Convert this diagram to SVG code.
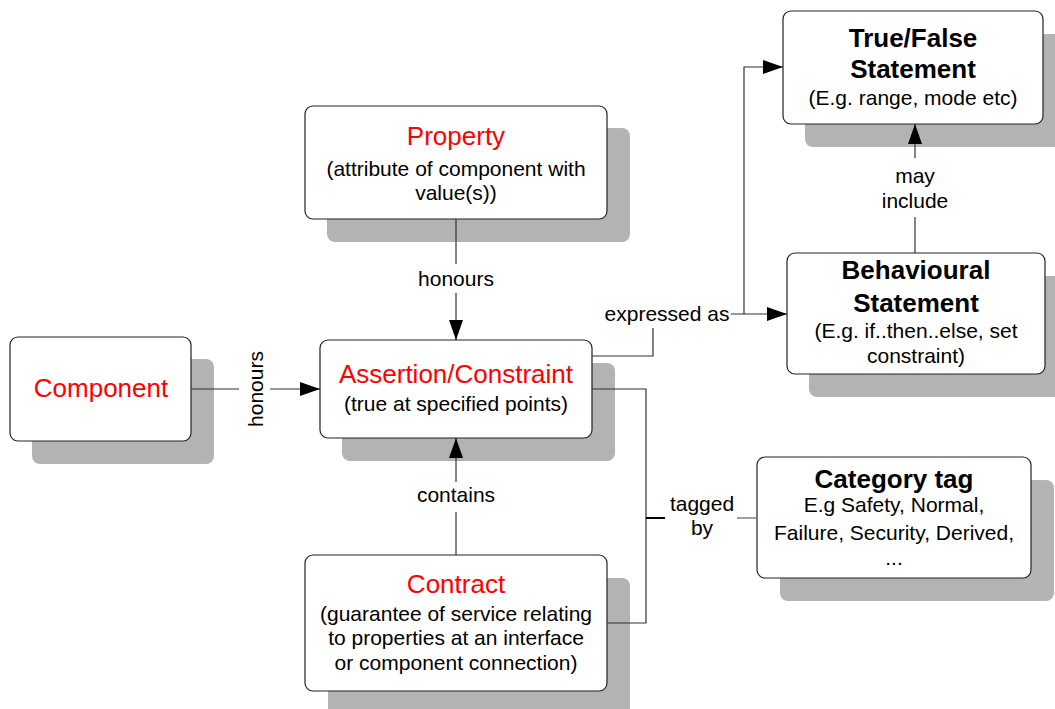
<svg xmlns="http://www.w3.org/2000/svg" width="1055" height="709" viewBox="0 0 1055 709">
  <style>
    text { font-family: "Liberation Sans", Arial, sans-serif; fill: #000; }
    .shadow { fill: #b3b3b3; }
    .box { fill: #fff; stroke: #222; stroke-width: 1.2; }
    .title { font-size: 26px; fill: #ff0000; text-anchor: middle; }
    .bold { font-size: 26px; font-weight: bold; text-anchor: middle; }
    .sub { font-size: 21px; text-anchor: middle; }
    .lbl { font-size: 21px; text-anchor: middle; }
    .wire { fill: none; stroke: #333; stroke-width: 1.2; }
    .wire-light { fill: none; stroke: #777; stroke-width: 1.4; }
    .wire-dark { fill: none; stroke: #000; stroke-width: 2; }
  </style>
  <defs>
    <marker id="arrow" viewBox="0 0 20 14" refX="20" refY="7" markerWidth="20" markerHeight="14" markerUnits="userSpaceOnUse" orient="auto">
      <path d="M0,0 L20,7 L0,14 Z" fill="#000"/>
    </marker>
  </defs>

  <rect width="1055" height="709" fill="#fff"/>

  <!-- Component -->
  <g id="component">
    <rect class="shadow" x="32" y="359" width="182" height="105" rx="8"/>
    <rect class="box" x="10" y="337" width="181" height="104" rx="8"/>
    <text class="title" x="101" y="397">Component</text>
  </g>

  <!-- Property -->
  <g id="property">
    <rect class="shadow" x="327" y="128" width="303" height="114" rx="8"/>
    <rect class="box" x="305" y="106" width="302" height="113" rx="8"/>
    <text class="title" x="456" y="145">Property</text>
    <text class="sub" x="456" y="176">(attribute of component with</text>
    <text class="sub" x="456" y="200">value(s))</text>
  </g>

  <!-- Assertion/Constraint -->
  <g id="assertion">
    <rect class="shadow" x="342" y="363" width="273" height="98" rx="8"/>
    <rect class="box" x="320" y="340" width="272" height="98" rx="8"/>
    <text class="title" x="456" y="383">Assertion/Constraint</text>
    <text class="sub" x="456" y="411">(true at specified points)</text>
  </g>

  <!-- Contract -->
  <g id="contract">
    <rect class="shadow" x="328" y="578" width="302" height="140" rx="8"/>
    <rect class="box" x="305" y="555" width="302" height="136" rx="8"/>
    <text class="title" x="456" y="593">Contract</text>
    <text class="sub" x="456" y="621">(guarantee of service relating</text>
    <text class="sub" x="456" y="645">to properties at an interface</text>
    <text class="sub" x="456" y="670">or component connection)</text>
  </g>

  <!-- True/False Statement -->
  <g id="true-false">
    <rect class="shadow" x="805" y="34" width="260" height="113" rx="8"/>
    <rect class="box" x="783" y="11" width="260" height="113" rx="8"/>
    <text class="bold" x="913" y="47">True/False</text>
    <text class="bold" x="913" y="78">Statement</text>
    <text class="sub" x="913" y="105">(E.g. range, mode etc)</text>
  </g>

  <!-- Behavioural Statement -->
  <g id="behavioural">
    <rect class="shadow" x="809" y="276" width="260" height="121" rx="8"/>
    <rect class="box" x="787" y="253" width="258" height="121" rx="8"/>
    <text class="bold" x="916" y="279">Behavioural</text>
    <text class="bold" x="916" y="312">Statement</text>
    <text class="sub" x="916" y="338">(E.g. if..then..else, set</text>
    <text class="sub" x="916" y="363">constraint)</text>
  </g>

  <!-- Category tag -->
  <g id="category">
    <rect class="shadow" x="780" y="480" width="274" height="121" rx="8"/>
    <rect class="box" x="757" y="457" width="274" height="121" rx="8"/>
    <text class="bold" x="894" y="488">Category tag</text>
    <text class="sub" x="894" y="512">E.g Safety, Normal,</text>
    <text class="sub" x="894" y="540">Failure, Security, Derived,</text>
    <text class="sub" x="894" y="565">...</text>
  </g>

  <!-- connectors, drawn over the drop shadows -->
  <g id="connectors">
    <!-- Component honours Assertion -->
    <path class="wire" d="M191,389 H239"/>
    <path class="wire" d="M270,389 H320" marker-end="url(#arrow)"/>
    <text class="lbl" transform="translate(263,389) rotate(-90)">honours</text>

    <!-- Property honours Assertion -->
    <path class="wire" d="M456,219 V264"/>
    <path class="wire" d="M456,293 V340" marker-end="url(#arrow)"/>
    <text class="lbl" x="456" y="286">honours</text>

    <!-- Contract contains Assertion -->
    <path class="wire" d="M456,555 V512"/>
    <path class="wire" d="M456,482 V438" marker-end="url(#arrow)"/>
    <text class="lbl" x="456" y="502">contains</text>

    <!-- Assertion expressed as statements -->
    <path class="wire" d="M592,356 H653 V328"/>
    <text class="lbl" x="667" y="321">expressed as</text>
    <path class="wire" d="M731,314 H787" marker-end="url(#arrow)"/>
    <path class="wire" d="M744,314 V67 H783" marker-end="url(#arrow)"/>

    <!-- Behavioural may include True/False -->
    <path class="wire" d="M915,253 V217"/>
    <path class="wire" d="M915,158 V124" marker-end="url(#arrow)"/>
    <text class="lbl" x="915" y="183">may</text>
    <text class="lbl" x="915" y="208">include</text>

    <!-- Assertion / Contract tagged by Category -->
    <path class="wire" d="M592,389 H646 V623 H607"/>
    <path class="wire-dark" d="M646,518 H665"/>
    <path class="wire-light" d="M737,518 H757"/>
    <text class="lbl" x="702" y="511">tagged</text>
    <text class="lbl" x="702" y="535">by</text>
  </g>
</svg>
